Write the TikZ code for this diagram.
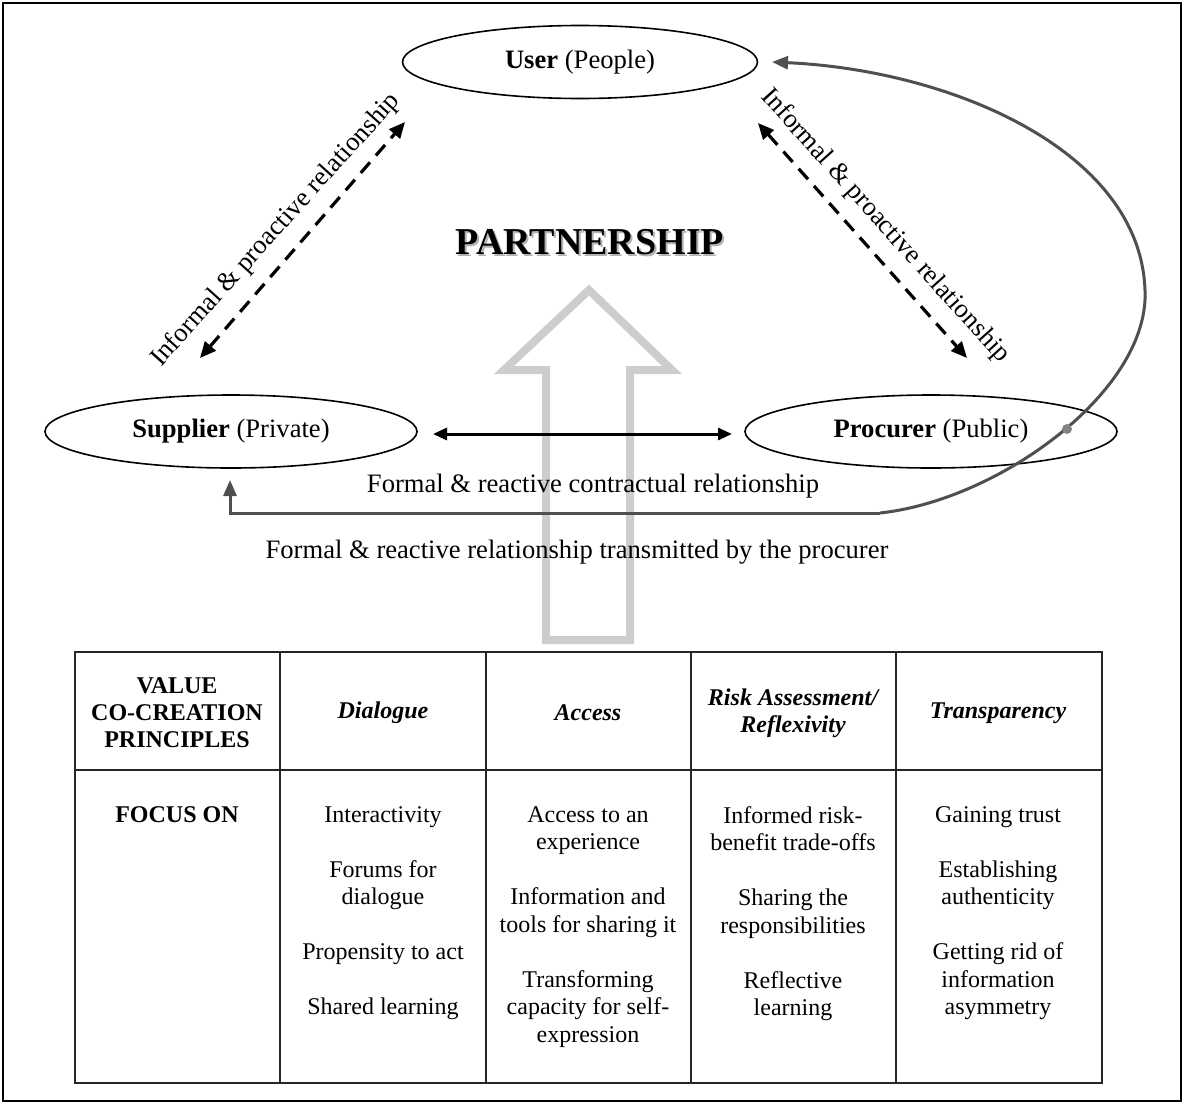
\documentclass[tikz,border=0pt]{standalone}
\usepackage{fontspec}
\setmainfont{Liberation Serif}
\usetikzlibrary{shapes.geometric,arrows.meta,calc}
\definecolor{pathgray}{HTML}{4F4F4F}
\definecolor{arrowgray}{HTML}{CDCDCD}
\tikzset{
  actor/.style={draw, ellipse, line width=0.8pt, inner sep=0pt, minimum height=36.5pt, font=\fontsize{13.3}{15}\selectfont},
  dashrel/.style={line width=1.6pt, dash pattern=on 7pt off 4.5pt, {Triangle[length=8pt,width=7pt]}-{Triangle[length=8pt,width=7pt]}},
  formalrel/.style={line width=1.5pt, {Triangle[length=7pt,width=6pt]}-{Triangle[length=7pt,width=6pt]}},
  procpath/.style={draw=pathgray, line width=1.5pt, -{Triangle[length=8pt,width=6.5pt]}},
  lbl/.style={font=\fontsize{13.3}{15}\selectfont, inner sep=0pt},
  cell/.style={align=center, inner sep=0pt, font=\fontsize{12}{13.75}\selectfont},
  tline/.style={draw=black!85, line width=0.8pt},
}
\begin{document}
\begin{tikzpicture}[x=0.5pt,y=-0.5pt]
\useasboundingbox (0,0) rectangle (1184,1104);
\draw[line width=1pt] (3,3) rectangle (1181,1101);

% big hollow arrow
\draw[arrowgray, line width=4pt, line join=miter]
  (589,290) -- (672,370) -- (630,370) -- (630,640) -- (546,640) -- (546,370) -- (504,370) -- cycle;

% actors
\node[actor, minimum width=177.5pt] (user) at (580,62) {\textbf{User} (People)};
\node[actor, minimum width=186pt] (supplier) at (231,431.5) {\textbf{Supplier} (Private)};
\node[actor, minimum width=186pt] (procurer) at (931,431.5) {\textbf{Procurer} (Public)};

% partnership
\node[lbl, font=\fontsize{19}{21}\selectfont\bfseries, text=black!30] at (592,244) {PARTNERSHIP};
\node[lbl, font=\fontsize{19}{21}\selectfont\bfseries] (partner) at (590,242) {PARTNERSHIP};

% dashed relations
\coordinate (dl1) at (200,358);
\coordinate (dl2) at (405,122);
\coordinate (dr1) at (758,123);
\coordinate (dr2) at (967,358);
\draw[dashrel] (dl1) -- (dl2);
\draw[dashrel] (dr1) -- (dr2);
\node[lbl, rotate=48] (ll) at (276,230) {Informal \& proactive relationship};
\node[lbl, rotate=-48] (rl) at (885,226) {Informal \& proactive relationship};

% formal relation
\coordinate (fa) at (433,434);
\coordinate (fb) at (732,434);
\draw[formalrel] (fa) -- (fb);
\node[lbl] (fl) at (593,486) {Formal \& reactive contractual relationship};

% procurer path
\coordinate (pbot) at (230,513);
\coordinate (ptip) at (230,480);
\coordinate (pc) at (880,513);
\coordinate (pright) at (1145,290);
\coordinate (utip) at (772,62);
\draw[procpath] (pc) -- (pbot) -- (ptip);
\draw[procpath] (pc) .. controls (1000,500) and (1150,390) .. (pright)
  .. controls (1140,150) and (950,70) .. (utip);
\fill[pathgray!70] (1067,429) circle (2.5pt);
\node[lbl] (tl) at (577,552) {Formal \& reactive relationship transmitted by the procurer};

% table
\draw[tline] (75,652) rectangle (1102,1083);
\draw[tline] (75,770) -- (1102,770);
\foreach \x in {280,486,691,896} \draw[tline] (\x,652) -- (\x,1083);

\node[cell, font=\fontsize{12}{13.5}\selectfont\bfseries] (h1) at (177,713) {VALUE\\CO-CREATION\\PRINCIPLES};
\node[cell, font=\fontsize{12}{13.5}\selectfont\bfseries\itshape] (h2) at (383,713) {Dialogue};
\node[cell, font=\fontsize{12}{13.5}\selectfont\bfseries\itshape] (h3) at (588,713) {Access};
\node[cell, font=\fontsize{12}{13.5}\selectfont\bfseries\itshape] (h4) at (793,713) {Risk Assessment/\\Reflexivity};
\node[cell, font=\fontsize{12}{13.5}\selectfont\bfseries\itshape] (h5) at (998,713) {Transparency};

\node[cell, anchor=north, font=\fontsize{12}{13.75}\selectfont\bfseries] (c1) at (177,806) {FOCUS ON};
\node[cell, anchor=north] (c2) at (383,806) {Interactivity\\\mbox{}\\Forums for\\dialogue\\\mbox{}\\Propensity to act\\\mbox{}\\Shared learning};
\node[cell, anchor=north] (c3) at (588,806) {Access to an\\experience\\\mbox{}\\Information and\\tools for sharing it\\\mbox{}\\Transforming\\capacity for self-\\expression};
\node[cell, anchor=north] (c4) at (793,806) {Informed risk-\\benefit trade-offs\\\mbox{}\\Sharing the\\responsibilities\\\mbox{}\\Reflective\\learning};
\node[cell, anchor=north] (c5) at (998,806) {Gaining trust\\\mbox{}\\Establishing\\authenticity\\\mbox{}\\Getting rid of\\information\\asymmetry};
\end{tikzpicture}
\end{document}
